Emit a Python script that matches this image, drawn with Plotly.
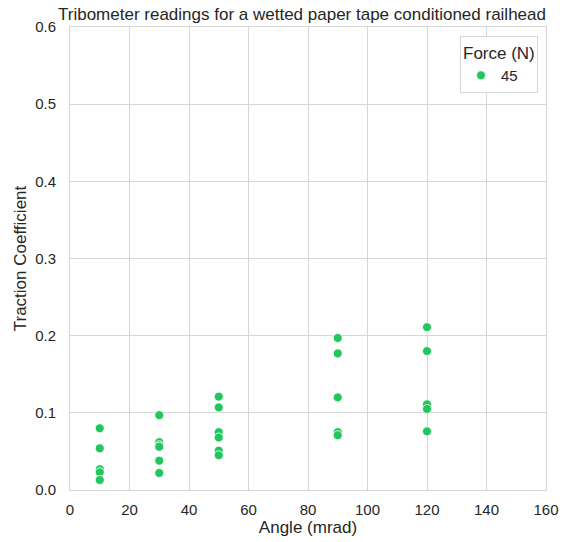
import plotly.graph_objects as go

angles = [10]*5 + [30]*6 + [50]*6 + [90]*5 + [120]*5
traction = [0.080, 0.054, 0.027, 0.023, 0.013,
            0.097, 0.062, 0.058, 0.056, 0.038, 0.022,
            0.121, 0.107, 0.075, 0.068, 0.051, 0.045,
            0.197, 0.177, 0.120, 0.075, 0.071,
            0.211, 0.180, 0.111, 0.105, 0.076]
force_label = "45"
x_ticks = [0, 20, 40, 60, 80, 100, 120, 140, 160]
y_ticks = [0.0, 0.1, 0.2, 0.3, 0.4, 0.5, 0.6]

fig = go.Figure()
fig.add_trace(go.Scatter(
    x=angles, y=traction, mode="markers", name=force_label,
    marker=dict(color="#22c55e", size=9, line=dict(color="white", width=0.8)),
))

font = "Liberation Sans, Arial, sans-serif"
fig.update_layout(
    width=573, height=542,
    margin=dict(l=70, r=27, t=27, b=52),
    paper_bgcolor="white", plot_bgcolor="white",
    font=dict(family=font, size=15, color="#262626"),
    title=dict(text="Tribometer readings for a wetted paper tape conditioned railhead",
               x=302/573, xanchor="center", y=1 - 14/542, yanchor="middle",
               font=dict(size=17, color="#262626")),
    xaxis=dict(range=[0, 160], tickvals=x_ticks, ticktext=[str(v) for v in x_ticks],
               title=dict(text="Angle (mrad)", font=dict(size=17), standoff=4),
               showgrid=True, gridcolor="#d6d6d6", gridwidth=1,
               showline=True, linecolor="#d6d6d6", mirror=True, zeroline=False,
               ticks="", ticklabelstandoff=6, automargin=False),
    yaxis=dict(range=[0, 0.6], tickvals=y_ticks, ticktext=[f"{v:.1f}" for v in y_ticks],
               title=dict(text="Traction Coefficient", font=dict(size=17), standoff=4),
               showgrid=True, gridcolor="#d6d6d6", gridwidth=1,
               showline=True, linecolor="#d6d6d6", mirror=True, zeroline=False,
               ticks="", ticklabelstandoff=10, automargin=False),
    showlegend=True,
    legend=dict(title=dict(text="Force (N)", font=dict(size=17), side="top"),
                xanchor="right", yanchor="top",
                bgcolor="white", bordercolor="#d6d6d6", borderwidth=1,
                font=dict(size=15)),
)
fig.update_layout(legend=dict(x=(538 - 70) / (546 - 70), y=(490 - 36) / (490 - 27)))
fig.write_html("out.html")
